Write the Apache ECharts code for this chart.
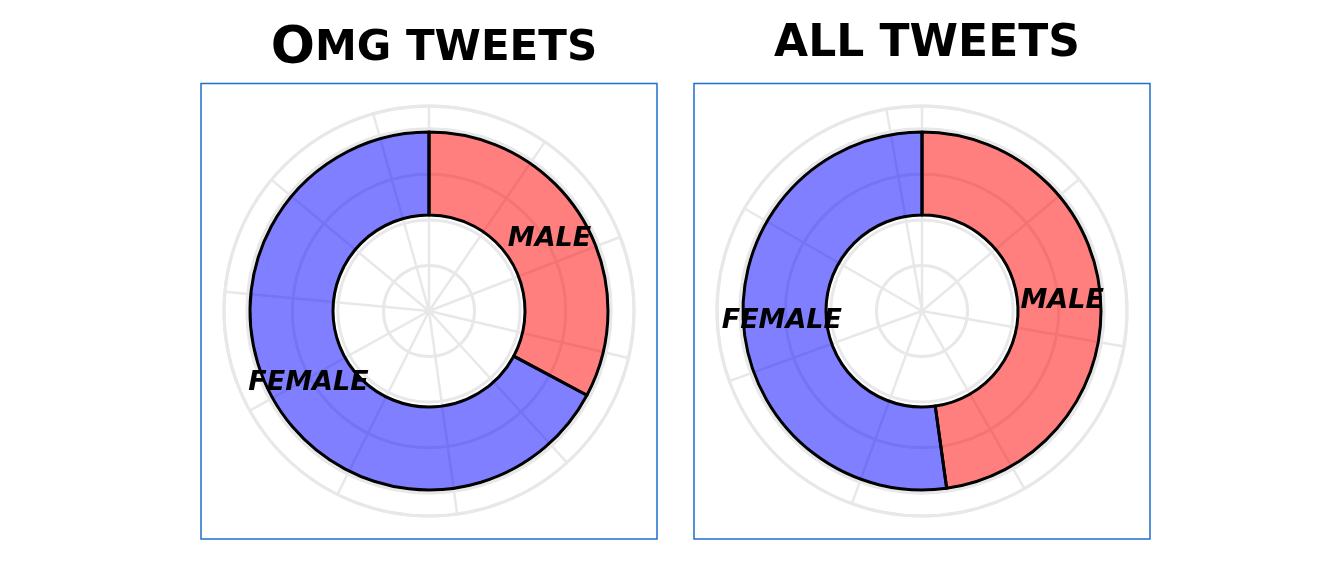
<!DOCTYPE html>
<html>
<head>
<meta charset="utf-8">
<script src="https://cdn.jsdelivr.net/npm/echarts@6/dist/echarts.min.js"></script>
<style>
html,body{margin:0;padding:0;background:#fff;}
#c{width:1344px;height:576px;}
</style>
</head>
<body>
<div id="c"></div>
<script>
// ---- data ----
const genders = ['male', 'female'];
const omgShares = [32.8, 67.2];
const allShares = [47.8, 52.2];
const chartTitles = ['Omg tweets', 'all tweets'];
const gridSteps = [34.42, 50];   // angular spacing of the background grid spokes

const chart = echarts.init(document.getElementById('c'), null, {renderer: 'canvas'});

const centers = [[429, 311], [922, 311]];
const frames = [[201, 83.5], [694, 83.5]];
const gridColor = '#e8e8e8';
const labelFont = '"DejaVu Sans", sans-serif';

function pieSeries(idx, values) {
  return {
    type: 'pie',
    center: centers[idx],
    radius: [96, 179],
    startAngle: 90,
    clockwise: true,
    animation: false,
    silent: true,
    z: 5,
    label: {
      show: true,
      position: 'inside',
      formatter: p => p.name.toUpperCase(),
      color: '#000',
      fontFamily: labelFont,
      fontStyle: 'italic',
      fontWeight: 'bold',
      fontSize: 27
    },
    labelLine: {show: false},
    itemStyle: {borderColor: '#000', borderWidth: 3},
    data: genders.map((g, i) => ({
      name: g,
      value: values[i],
      itemStyle: {color: i === 0 ? 'rgba(255,0,0,0.5)' : 'rgba(0,0,255,0.5)', borderColor: '#000', borderWidth: 3}
    }))
  };
}

function titleOpt(idx) {
  const t = chartTitles[idx].toUpperCase();
  return {
    text: '{big|' + t.charAt(0) + '}{small|' + t.slice(1) + '}',
    left: centers[idx][0],
    top: 18,
    textAlign: 'center',
    textStyle: {
      rich: {
        big: {fontFamily: labelFont, fontWeight: 'bold', fontSize: idx === 0 ? 52 : 44, color: '#000'},
        small: {fontFamily: labelFont, fontWeight: 'bold', fontSize: idx === 0 ? 42 : 44, color: '#000'}
      }
    }
  };
}

const option = {
  animation: false,
  title: [titleOpt(0), titleOpt(1)],
  polar: centers.map(c => ({center: c, radius: 205})),
  angleAxis: gridSteps.map((s, i) => ({
    polarIndex: i,
    type: 'value',
    min: 0,
    max: 360,
    interval: s,
    startAngle: 90,
    clockwise: true,
    axisLine: {show: true, lineStyle: {color: gridColor, width: 3}},
    axisTick: {show: false},
    axisLabel: {show: false},
    splitLine: {show: true, lineStyle: {color: gridColor, width: 2.5}}
  })),
  radiusAxis: [0, 1].map(i => ({
    polarIndex: i,
    type: 'value',
    min: 0,
    max: 4.5,
    interval: 1,
    axisLine: {show: false},
    axisTick: {show: false},
    axisLabel: {show: false},
    splitLine: {show: true, lineStyle: {color: gridColor, width: 3}}
  })),
  graphic: frames.map(f => ({
    type: 'rect',
    shape: {x: f[0], y: f[1], width: 456, height: 455.5},
    style: {fill: 'none', stroke: '#1f6fcc', lineWidth: 1.5},
    silent: true,
    z: 0
  })),
  series: [pieSeries(0, omgShares), pieSeries(1, allShares)]
};

chart.setOption(option);
</script>
</body>
</html>
